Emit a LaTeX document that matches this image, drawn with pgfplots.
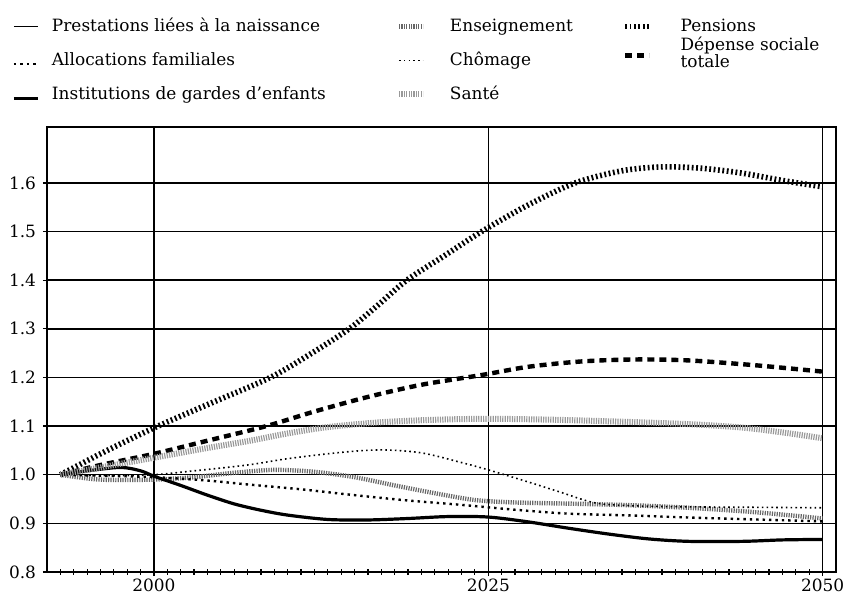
\documentclass[border=0pt]{standalone}
\usepackage{fontspec}
\setmainfont{DejaVu Serif}
\usepackage{pgfplots}
\pgfplotsset{compat=1.18}
\pgfplotsset{
    img at/.style={legend image code/.code={\draw[##1] (0bp,#1) -- (12bp,#1);}},
}

\newcommand\lbl{\fontsize{8.5}{9}\selectfont}

\begin{document}
\begin{tikzpicture}
\useasboundingbox (-23.5bp,-12bp) rectangle (402bp,286bp);
\begin{axis}[
    scale only axis,
    width=394.5bp, height=222.5bp,
    xmin=1992, xmax=2051,
    ymin=0.8, ymax=1.715,
    xtick={2000,2025,2050},
    minor xtick={1993,...,2049},
    ytick={0.8,0.9,1.0,1.1,1.2,1.3,1.4,1.5,1.6},
    xmajorgrids, ymajorgrids,
    major grid style={black, line width=0.7bp},
    axis line style={black, line width=0.8bp},
    tick pos=left,
    tick align=center,
    major tick length=4bp, minor tick length=3bp,
    tick style={black, line width=0.6bp},
    /pgf/number format/assume math mode=true,
    tick label style={font=\lbl},
    xticklabel style={/pgf/number format/1000 sep={}, yshift=2bp},
    yticklabel style={/pgf/number format/.cd, fixed, fixed zerofill, precision=1},
    legend columns=3,
    img at=2.5bp,
    legend style={
        draw=none, fill=none, font=\lbl,
        at={(axis description cs:0,1)}, anchor=north west,
        xshift=-17.5bp, yshift=54.5bp,
        inner sep=0pt, column sep=0pt, row sep=8.5bp,
        nodes={inner sep=0pt, text height=6.5bp, text depth=2bp},
        cells={anchor=base west},
    },
]
% rangee 1 de la legende
\addplot[black, line width=0.8bp, smooth] coordinates {
    (1993,1.000) (1995,1.008) (1997.5,1.015) (1999,1.008) (2000,0.997)
    (2002,0.978) (2004,0.958) (2006,0.940) (2008,0.927) (2010,0.917)
    (2013,0.908) (2016,0.907) (2019,0.910) (2022,0.914) (2025,0.913)
    (2028,0.903) (2031,0.890) (2034,0.878) (2037,0.868) (2040,0.863)
    (2044,0.863) (2047,0.866) (2050,0.867)
};
\addlegendentry{\makebox[178.2bp][l]{\hspace*{6.2bp}Prestations liées à la naissance}}

\addplot[black!60, line width=2.2bp, dash pattern=on 0.6bp off 0.6bp, smooth] coordinates {
    (1993,1.000) (1996,0.990) (2000,0.990) (2003,0.995) (2006,1.004)
    (2009,1.010) (2012,1.006) (2015,0.995) (2018,0.978) (2021,0.962)
    (2024,0.948) (2027,0.943) (2032,0.940) (2036,0.937) (2040,0.932)
    (2044,0.925) (2047,0.918) (2050,0.910)
};
\addlegendentry{\makebox[98.25bp][l]{\hspace*{12bp}Enseignement}}

\addplot[black, line width=2.8bp, dash pattern=on 0.9bp off 1.3bp, smooth] coordinates {
    (1993,1.000) (1996.5,1.050) (2000.3,1.100) (2004.5,1.150) (2008.7,1.200)
    (2011.8,1.250) (2014.6,1.300) (2016.8,1.350) (2018.9,1.400) (2021.7,1.450)
    (2024.5,1.500) (2028,1.555) (2031.5,1.600) (2035,1.625) (2038,1.633)
    (2041,1.630) (2044,1.620) (2047,1.605) (2050,1.592)
};
\addlegendentry{\hspace*{14.25bp}Pensions}

% rangee 2
\addplot[black, line width=1.2bp, dash pattern=on 1.2bp off 2bp, smooth, img at=0.8bp] coordinates {
    (1993,1.000) (1996,0.998) (2000,0.995) (2004,0.988) (2007,0.980)
    (2011,0.970) (2015,0.958) (2019,0.947) (2023,0.938) (2027,0.928)
    (2031,0.920) (2036,0.916) (2040,0.912) (2045,0.908) (2050,0.904)
};
\addlegendentry{\makebox[178.2bp][l]{\hspace*{6.2bp}Allocations familiales}}

\addplot[black, line width=0.8bp, dash pattern=on 0.8bp off 1.6bp, smooth] coordinates {
    (1993,1.000) (1997,0.998) (2000,1.000) (2003,1.008) (2007,1.020)
    (2010,1.033) (2014,1.046) (2017,1.051) (2020,1.045) (2023,1.025)
    (2025,1.010) (2028,0.985) (2030.3,0.965) (2033,0.942) (2036,0.936)
    (2040,0.934) (2045,0.933) (2050,0.932)
};
\addlegendentry{\makebox[98.25bp][l]{\hspace*{12bp}Chômage}}

\addplot[black, line width=2.2bp, dash pattern=on 3.5bp off 2.5bp, smooth, img at=5bp] coordinates {
    (1993,1.000) (1996,1.020) (2000,1.043) (2004,1.070) (2008.4,1.100)
    (2012,1.130) (2016,1.160) (2020,1.185) (2024.5,1.205) (2028,1.222)
    (2032,1.233) (2036,1.237) (2040,1.235) (2045,1.225) (2050,1.212)
};
\addlegendentry{\hspace*{14.25bp}\smash{\raisebox{-1bp}{\vbox{\baselineskip=8.5bp\hbox{Dépense sociale}\hbox{totale}}}}}

% rangee 3
\addplot[black, line width=1.6bp, smooth, img at=0.5bp] coordinates {
    (1993,1.000) (1995,1.008) (1997.5,1.015) (1999,1.008) (2000,0.997)
    (2002,0.978) (2004,0.958) (2006,0.940) (2008,0.927) (2010,0.917)
    (2013,0.908) (2016,0.907) (2019,0.910) (2022,0.914) (2025,0.913)
    (2028,0.903) (2031,0.890) (2034,0.878) (2037,0.868) (2040,0.863)
    (2044,0.863) (2047,0.866) (2050,0.867)
};
\addlegendentry{\makebox[178.2bp][l]{\hspace*{6.2bp}Institutions de gardes d'enfants}}

\addplot[black!40, line width=3bp, dash pattern=on 0.6bp off 0.6bp, smooth] coordinates {
    (1993,1.000) (1996,1.015) (2000,1.035) (2004,1.055) (2007,1.069)
    (2010,1.085) (2013,1.098) (2017,1.108) (2021,1.113) (2025,1.115)
    (2030,1.113) (2035,1.109) (2040,1.104) (2044,1.097) (2047,1.087)
    (2050,1.075)
};
\addlegendentry{\makebox[98.25bp][l]{\hspace*{12bp}Santé}}
\end{axis}
\end{tikzpicture}
\end{document}
